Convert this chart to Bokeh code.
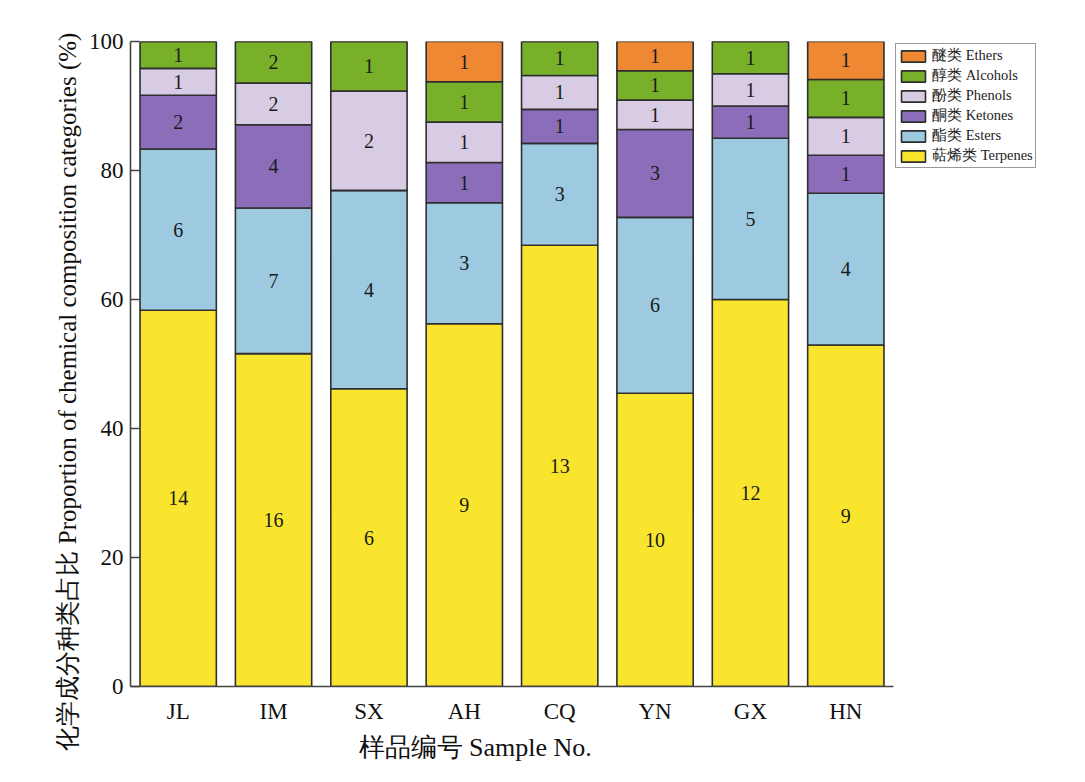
from bokeh.plotting import figure
from bokeh.models import ColumnDataSource, Legend, LegendItem, Title, FactorRange, Range1d
from bokeh.core.properties import value
from bokeh.embed import file_html
from bokeh.resources import INLINE

samples = ["JL", "IM", "SX", "AH", "CQ", "YN", "GX", "HN"]
categories = ["Terpenes", "Esters", "Ketones", "Phenols", "Alcohols", "Ethers"]
legend_labels = ["萜烯类 Terpenes", "酯类 Esters", "酮类 Ketones", "酚类 Phenols", "醇类 Alcohols", "醚类 Ethers"]
terpenes = [14, 16, 6, 9, 13, 10, 12, 9]
esters = [6, 7, 4, 3, 3, 6, 5, 4]
ketones = [2, 4, 0, 1, 1, 3, 1, 1]
phenols = [1, 2, 2, 1, 1, 1, 1, 1]
alcohols = [1, 2, 1, 1, 1, 1, 1, 1]
ethers = [0, 0, 0, 1, 0, 1, 0, 1]
colors = ["#F9E52E", "#9DCAE1", "#8C6DB9", "#D8CCE4", "#78B02A", "#EE8833"]
y_ticks = [0, 20, 40, 60, 80, 100]

FONT = "Liberation Serif"
counts = [terpenes, esters, ketones, phenols, alcohols, ethers]
totals = [sum(c[i] for c in counts) for i in range(len(samples))]

data = {"x": samples}
for name, c in zip(categories, counts):
    data[name] = [v / t * 100 for v, t in zip(c, totals)]
source = ColumnDataSource(data)

# label positions (middle of each segment), skipping zeros
lx, ly, lt = [], [], []
for i, s in enumerate(samples):
    base = 0.0
    for name, c in zip(categories, counts):
        h = data[name][i]
        if c[i] > 0:
            lx.append(s)
            ly.append(base + h / 2)
            lt.append(str(c[i]))
        base += h
lsource = ColumnDataSource(dict(x=lx, y=ly, t=lt))

p = figure(x_range=FactorRange(*samples, range_padding=0), y_range=Range1d(0, 100),
           width=1078, height=775, frame_width=763, frame_height=645,
           min_border_left=130, min_border_right=185, min_border_top=41, min_border_bottom=89,
           output_backend="svg", toolbar_location=None, background_fill_color="white")

rs = p.vbar_stack(categories, x="x", width=0.8, source=source, color=colors,
                  line_color="#2e2e2e", line_width=1.6)

p.text(x="x", y="y", text="t", source=lsource, text_align="center", text_baseline="middle",
       text_font=value(FONT), text_font_size="20px", text_color="#1a1a1a")

p.xgrid.visible = False
p.ygrid.visible = False
p.outline_line_color = None

p.yaxis.ticker = y_ticks
for ax in (p.xaxis[0], p.yaxis[0]):
    ax.axis_line_color = "#444444"
    ax.axis_line_width = 1.6
    ax.major_label_text_font = FONT
    ax.major_label_text_font_size = "23px"
    ax.major_label_text_color = "#111111"
    ax.minor_tick_line_color = None
p.yaxis.major_tick_in = 9
p.yaxis.major_tick_out = 0
p.yaxis.major_tick_line_color = "#444444"
p.yaxis.major_tick_line_width = 1.6
p.yaxis.major_label_standoff = 7
p.xaxis.major_tick_line_color = None
p.xaxis.major_label_standoff = 6

items = [LegendItem(label=lab, renderers=[r]) for lab, r in zip(legend_labels, rs)][::-1]
legend = Legend(items=items, location="top_left", orientation="vertical",
                glyph_width=30, glyph_height=14, label_height=17, spacing=1, padding=2,
                margin=2, label_standoff=4,
                label_text_font=FONT, label_text_font_size="14.5px", label_text_color="#222222",
                border_line_color="#333333", border_line_width=1.2, background_fill_alpha=1)
p.add_layout(legend, "right")

ytitle = Title(text="化学成分种类占比 Proportion of chemical composition categories (%)",
               align="left", offset=-64, vertical_align="middle", standoff=8,
               text_font=FONT, text_font_size="25px", text_font_style="normal", text_color="#111111")
p.add_layout(ytitle, "left")
xtitle = Title(text="样品编号 Sample No.", align="left", offset=228, vertical_align="middle",
               text_font=FONT, text_font_size="26px", text_font_style="normal", text_color="#111111")
p.add_layout(xtitle, "below")

open("out.html", "w").write(file_html(p, INLINE))
